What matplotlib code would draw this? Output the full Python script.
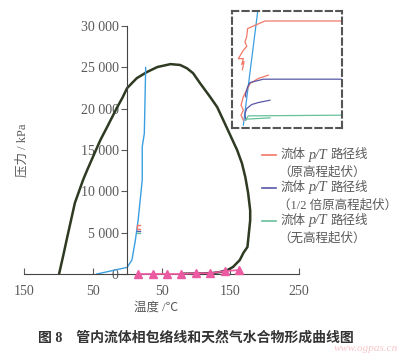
import matplotlib.pyplot as plt
from matplotlib.lines import Line2D
from matplotlib.ticker import FuncFormatter

plt.rcParams['font.family'] = ['Liberation Serif', 'Noto Sans CJK SC']

# phase envelope (T in degC, P in kPa)
env_T = [-99, -93, -87, -76, -64, -58, -39, -29, -15, -7, 0, 7, 14, 29, 44,
         63, 77, 87, 96, 106, 121, 131, 140, 150, 160, 167, 172, 176, 179,
         179, 175, 169, 164, 154, 146, 135, 125, 111, 80]
env_P = [0, 2200, 4500, 8600, 11400, 12600, 16200, 17800, 20100, 21300,
         22500, 23100, 23700, 24450, 25050, 25400, 25300, 24900, 24300,
         23100, 21400, 20200, 18600, 16800, 15000, 13400, 11700, 9800, 7700,
         6500, 3270, 2540, 1700, 850, 480, 240, 120, 80, 30]

# hydrate formation curve
hyd_T = [-44, 0, 7, 12, 16, 22, 22, 25, 27]
hyd_P = [0, 800, 1700, 4100, 6500, 11400, 15400, 17000, 25000]

# pink triangles
tri_T = [16, 38, 58, 79, 100, 121, 143, 163]
tri_P = [0, 0, 0, 0, 100, 100, 350, 480]

# fluid p/T paths, as drawn small in the main plot
mini_red_T = [19, 15, 15, 19]
mini_red_P = [5900, 5900, 5450, 5450]
mini_blue_T = [15, 19]
mini_blue_P = [5200, 5200]
mini_green_T = [15, 19]
mini_green_P = [4950, 4950]

# the same paths, magnified in the inset (relative units 0-100)
ins_hyd_u = [10.3, 23.3]
ins_hyd_v = [2.6, 99.4]
ins_red1_u = [99.7, 30, 14.2, 13.3, 11.8, 13.5, 10.3, 5.8, 10.3, 8.8, 11, 9.5]
ins_red1_v = [91.7, 91.7, 85.2, 78, 73.8, 70, 66.7, 59.5, 59.5, 54.4, 57, 50]
ins_red2_u = [33, 23.9, 16.4, 13.4, 10.3, 8.2, 10.3, 8.2, 10.3]
ins_red2_v = [45.3, 42.5, 38.2, 32.5, 26.8, 19.7, 15.4, 11.1, 6.8]
ins_pur1_u = [99.7, 28.5, 16.4, 14.2, 12.4, 12.4]
ins_pur1_v = [41.9, 41.9, 39, 35.3, 29.6, 26.8]
ins_pur2_u = [34.5, 23.9, 17.9, 13.4, 11.8, 12.4]
ins_pur2_v = [23.9, 21.9, 20.2, 16.8, 12.5, 6.8]
ins_grn1_u = [99.7, 14.8, 12.4]
ins_grn1_v = [11.1, 10.5, 6.8]
ins_grn2_u = [34.5, 13.4]
ins_grn2_v = [8.8, 7.7]

x_ticks = [-150, -50, 50, 150, 250]
y_ticks = [0, 5000, 10000, 15000, 20000, 25000, 30000]

legend_second = ["（原高程起伏）", "（1/2 倍原高程起伏）", "（无高程起伏）"]

red = '#f07868'
purple = '#5858a8'
green = '#66c09a'
blue = '#3a9fe0'
dark = '#2e3a22'
pink = '#ec5aa2'
grey = '#5a5a5a'

fig = plt.figure(figsize=(4, 3.53), dpi=100)
ax = fig.add_axes([0.06, 0.2238, 0.6875, 0.7022])

ax.plot(env_T, env_P, color=dark, lw=1.8, solid_joinstyle='round')
ax.plot(hyd_T, hyd_P, color=blue, lw=1.0)
ax.plot(tri_T, tri_P, color=pink, lw=1.2, marker='^', ms=6, clip_on=False, zorder=5)
ax.plot(mini_red_T, mini_red_P, color=red, lw=1.0)
ax.plot(mini_blue_T, mini_blue_P, color=purple, lw=1.0)
ax.plot(mini_green_T, mini_green_P, color=green, lw=1.0)

ax.set_xlim(-150, 250)
ax.set_ylim(0, 30000)
for s in ['top', 'right']:
    ax.spines[s].set_visible(False)
ax.spines['left'].set_position(('data', 0))
ax.spines['left'].set_color('#444444')
ax.spines['bottom'].set_color('#444444')
ax.set_xticks(x_ticks)
ax.set_yticks(y_ticks)
ax.xaxis.set_major_formatter(FuncFormatter(lambda v, p: '%d' % abs(v)))
ax.yaxis.set_major_formatter(FuncFormatter(lambda v, p: '{:,}'.format(int(v)).replace(',', ' ')))
ax.tick_params(axis='x', direction='in', length=4, labelsize=10, colors=grey, pad=8)
ax.tick_params(axis='y', direction='out', length=4, labelsize=10, colors=grey, pad=2)
ax.patch.set_visible(False)

fig.text(0.055, 0.575, '压力 / kPa', rotation=90, ha='center', va='center',
         fontsize=9, color=grey)
fig.text(0.39, 0.128, '温度 /℃', ha='center', va='center', fontsize=9, color=grey)

# inset with magnified paths
ins = fig.add_axes([0.58, 0.637, 0.275, 0.331])
ins.plot(ins_hyd_u, ins_hyd_v, color=blue, lw=0.9)
ins.plot(ins_red1_u, ins_red1_v, color=red, lw=0.9)
ins.plot(ins_red2_u, ins_red2_v, color=red, lw=0.9)
ins.plot(ins_pur1_u, ins_pur1_v, color=purple, lw=0.9)
ins.plot(ins_pur2_u, ins_pur2_v, color=purple, lw=0.9)
ins.plot(ins_grn1_u, ins_grn1_v, color=green, lw=0.9)
ins.plot(ins_grn2_u, ins_grn2_v, color=green, lw=0.9)
ins.set_xlim(0, 100)
ins.set_ylim(0, 100)
ins.set_xticks([])
ins.set_yticks([])
ins.set_facecolor('none')
for s in ins.spines.values():
    s.set_linestyle((0, (3, 2)))
    s.set_linewidth(1.5)
    s.set_color('#555555')

# legend drawn by hand
for i, (c, l2) in enumerate(zip([red, purple, green], legend_second)):
    y1 = 1 - (155 + 33 * i) / 353
    y2 = 1 - (172 + 33 * i) / 353
    fig.add_artist(Line2D([0.655, 0.69], [y1, y1], color=c, lw=1.2))
    fig.text(0.70, y1, '流体', fontsize=9, color=grey, va='center')
    fig.text(0.772, y1, 'p/T', fontsize=10, color=grey, va='center', style='italic')
    fig.text(0.826, y1, '路径线', fontsize=9, color=grey, va='center')
    fig.text(0.695, y2, l2, fontsize=9, color=grey, va='center')

fig.text(0.49, 0.043, '图 8　管内流体相包络线和天然气水合物形成曲线图',
         ha='center', va='center', fontsize=10, fontweight='bold', color='#333333')
fig.text(0.995, 0.012, 'www.ogpas.cn', ha='right', va='center', fontsize=8,
         style='italic', color='#f4a0a8', alpha=0.6)

fig.savefig('out.png', dpi=100)
